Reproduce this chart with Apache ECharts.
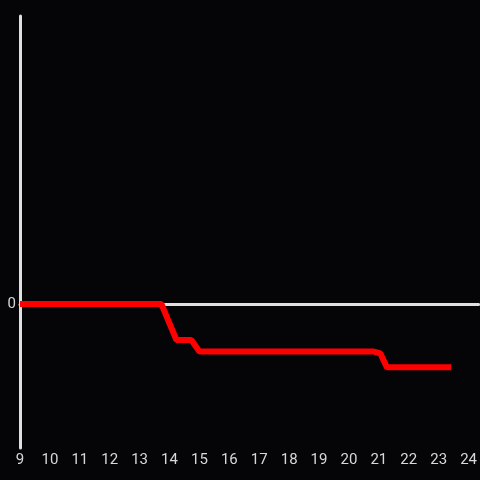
<!DOCTYPE html>
<html>
<head>
<meta charset="utf-8">
<script src="https://cdn.jsdelivr.net/npm/echarts@6/dist/echarts.min.js"></script>
<style>
  html, body { margin: 0; padding: 0; background: #050407; }
  #chart { width: 480px; height: 480px; }
</style>
</head>
<body>
<div id="chart"></div>
<script>
// values
let xValues = [9, 13.73, 14.23, 14.73, 15.0, 20.83, 21.05, 21.27, 23.42];
let yValues = [0, 0, -0.25, -0.25, -0.33, -0.33, -0.343, -0.44, -0.44];
let xTicks = [9, 10, 11, 12, 13, 14, 15, 16, 17, 18, 19, 20, 21, 22, 23, 24];

let points = xValues.map(function (x, i) { return [x, yValues[i]]; });

let myChart = echarts.init(document.getElementById('chart'));
let option = {
  backgroundColor: '#050407',
  animation: false,
  grid: { left: 20, right: 0, top: 16, bottom: 32 },
  xAxis: [{
    type: 'value',
    min: 9,
    max: 24.333,
    interval: 1,
    splitLine: { show: false },
    axisTick: { show: false },
    axisLine: { show: false, onZero: false },
    axisLabel: {
      color: '#d8d8d8',
      fontSize: 15,
      fontFamily: 'Roboto',
      margin: 5,
      showMaxLabel: false,
      formatter: function (v) { return xTicks.indexOf(v) >= 0 ? String(v) : ''; }
    }
  }, {
    // the line through zero
    type: 'value',
    min: 9,
    max: 24.333,
    interval: 1,
    splitLine: { show: false },
    axisTick: { show: false },
    axisLabel: { show: false },
    axisLine: { show: true, onZero: true, lineStyle: { color: '#e0e0e0', width: 3 } }
  }],
  yAxis: {
    type: 'value',
    min: -1,
    max: 2,
    interval: 1,
    splitLine: { show: false },
    axisTick: { show: false },
    axisLine: { show: true, lineStyle: { color: '#e0e0e0', width: 3 } },
    axisLabel: {
      color: '#d8d8d8',
      fontSize: 15,
      fontFamily: 'Roboto',
      margin: 4,
      formatter: function (v) { return v === 0 ? '0' : ''; }
    }
  },
  series: [{
    type: 'line',
    xAxisIndex: 0,
    data: points,
    showSymbol: false,
    lineStyle: { color: '#ff0000', width: 6 },
    z: 5
  }]
};
myChart.setOption(option);
</script>
</body>
</html>
